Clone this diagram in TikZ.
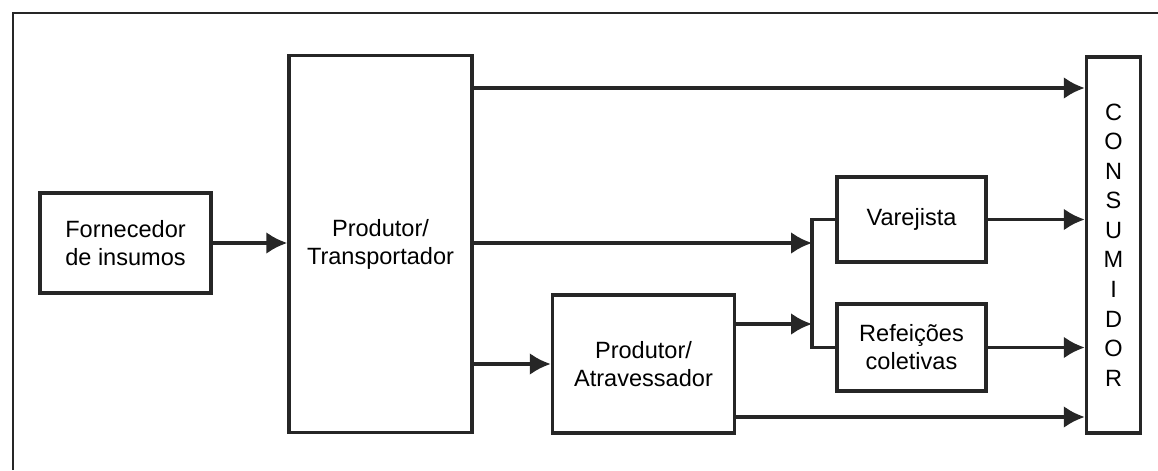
\documentclass[tikz,border=0pt]{standalone}
\usepackage{fontspec}
\setmainfont{Liberation Sans}
\usetikzlibrary{arrows.meta}
\colorlet{ink}{black!85}
\tikzset{
  >={Latex[length=4.2mm,width=4.4mm]},
  box/.style={draw=ink,line width=2pt,align=center,inner sep=0pt,
    font=\fontsize{13.4pt}{15.9pt}\selectfont},
  flow/.style={ink,line width=2pt,->}
}

\begin{document}
\begin{tikzpicture}[x=0.02cm,y=-0.02cm]
  \useasboundingbox (0,0) rectangle (1158,470);
  % frame
  \draw[ink,line width=1.5pt] (13,470) -- (13,13) -- (1158,13);
  % boxes
  \node[box,minimum width=3.42cm,minimum height=2cm] (forn) at (125.5,243) {Fornecedor\\de insumos};
  \node[box,minimum width=3.66cm,minimum height=7.54cm] (prodt) at (380.5,244) {Produtor/\\Transportador};
  \node[box,minimum width=3.64cm,minimum height=2.76cm] (proda) at (643.5,364) {Produtor/\\Atravessador};
  \node[box,minimum width=2.98cm,minimum height=1.7cm] (varej) at (911.5,219.5) {Varejista};
  \node[box,minimum width=2.98cm,minimum height=1.74cm] (refei) at (911.5,347.5) {Refeições\\coletivas};
  % consumer
  \node[box,minimum width=1.08cm,minimum height=7.52cm,
    font=\fontsize{13.4pt}{16.8pt}\selectfont] (cons) at (1113.5,245)
    {C\\O\\N\\S\\U\\M\\I\\D\\O\\R};
  % levels
  \coordinate (top) at (0,88);
  \coordinate (jn) at (812,280);
  \coordinate (pa) at (0,324);
  \coordinate (low) at (0,417);
  % flows
  \draw[flow] (forn.east) -- (forn.east -| prodt.west);
  \draw[flow] (prodt.east |- top) -- (cons.west |- top);
  \draw[flow] (prodt.east |- forn.east) -- (jn |- forn.east);
  \draw[flow] (prodt.east |- proda.west) -- (proda.west);
  \draw[flow] (proda.east |- pa) -- (jn |- pa);
  \draw[flow] (proda.east |- low) -- (cons.west |- low);
  \draw[ink,line width=2pt] (varej.west) -| (jn) |- (refei.west);
  \draw[flow] (varej.east) -- (varej.east -| cons.west);
  \draw[flow] (refei.east) -- (refei.east -| cons.west);
\end{tikzpicture}
\end{document}
